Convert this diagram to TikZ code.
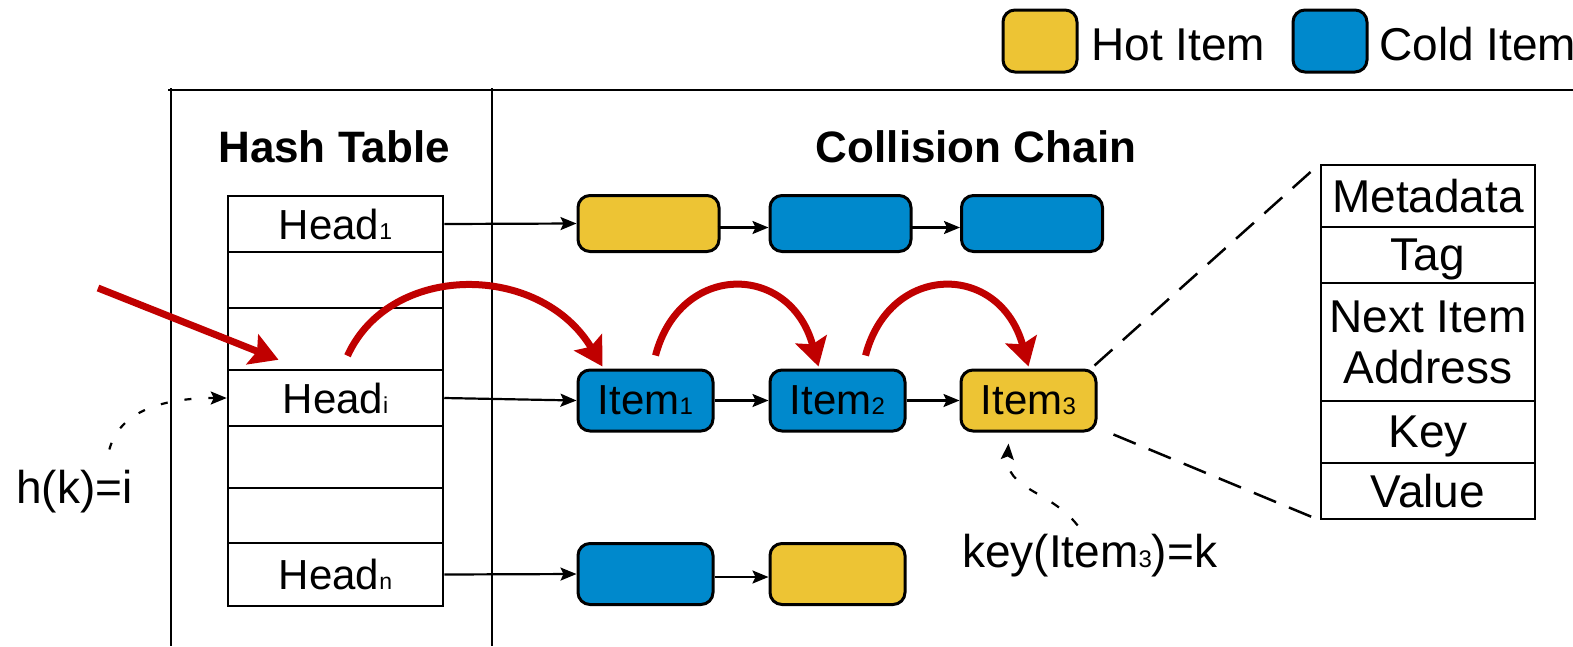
\documentclass[tikz,border=0pt]{standalone}
\usepackage{fontspec}
\setmainfont{Liberation Sans}
\usetikzlibrary{arrows.meta,calc}
\definecolor{hot}{RGB}{237,196,52}
\definecolor{cold}{RGB}{0,137,204}
\definecolor{redarr}{RGB}{192,0,0}
\newcommand{\fsz}[1]{\fontsize{#1}{#1}\selectfont}
\newcommand{\sbs}[2]{{\fsz{#1}#2}}
\begin{document}
\begin{tikzpicture}[x=1pt,y=-1pt,
  itembox/.style={draw=black,line width=3pt,rounded corners=12pt,minimum width=135pt,minimum height=61pt,inner sep=0pt,font=\fsz{42}},
  hotbox/.style={itembox,fill=hot},
  coldbox/.style={itembox,fill=cold},
  tabrow/.style={draw,line width=2.5pt,minimum width=215pt,inner sep=0pt,font=\fsz{42}},
  recrow/.style={draw,line width=2.5pt,minimum width=214pt,inner sep=0pt,font=\fsz{46},align=center},
  framel/.style={line width=2.5pt},
  link/.style={-{Stealth[length=16pt,width=13pt,inset=3pt]},line width=2.2pt},
  hop/.style={-{Stealth[length=28pt,width=32pt,inset=5pt]},line width=7pt,draw=redarr},
  dotlink/.style={-{Stealth[length=16pt,width=13pt,inset=3pt]},line width=2.2pt,dash pattern=on 7pt off 17pt},
  zoomline/.style={line width=2.5pt,dash pattern=on 24pt off 14pt},
  lbl/.style={inner sep=0pt,font=\fsz{46}}
]
\useasboundingbox (0,0) rectangle (1573,646);

% legend
\node[hotbox,minimum width=74pt,minimum height=62pt] (lh) at (1040,41) {};
\node[lbl,anchor=base west] (lht) at (1091,60) {Hot Item};
\node[coldbox,minimum width=74pt,minimum height=62pt] (lc) at (1330,41) {};
\node[lbl,anchor=base west] (lct) at (1379,60) {Cold Item};

% frame
\draw[framel] (168,90) -- (1573,90);
\draw[framel] (171,88) -- (171,646);
\draw[framel] (492,88) -- (492,646);

% titles
\node[inner sep=0pt,font=\fsz{44}\bfseries,anchor=base] (tht) at (334,162) {Hash Table};
\node[inner sep=0pt,font=\fsz{44}\bfseries,anchor=base] (tcc) at (976,162) {Collision Chain};

% hash table
\node[tabrow,minimum height=56pt] (h1) at (335.5,224) {Head\sbs{23}{1}};
\node[tabrow,minimum height=56pt] (e1) at (335.5,280) {};
\node[tabrow,minimum height=62pt] (e2) at (335.5,339) {};
\node[tabrow,minimum height=56pt] (hi) at (335.5,398) {Head\sbs{23}{i}};
\node[tabrow,minimum height=62pt] (e3) at (335.5,457) {};
\node[tabrow,minimum height=55pt] (e4) at (335.5,515.5) {};
\node[tabrow,minimum height=63pt] (hn) at (335.5,574.5) {Head\sbs{23}{n}};

% chain row 1
\node[hotbox,minimum width=141pt,minimum height=56pt] (a1) at (648.5,223.5) {};
\node[coldbox,minimum width=141pt,minimum height=56pt] (a2) at (840.5,223.5) {};
\node[coldbox,minimum width=141pt,minimum height=56pt] (a3) at (1032,223.5) {};
% chain row 2
\node[coldbox] (i1) at (645.5,400.5) {Item\sbs{24}{1}};
\node[coldbox] (i2) at (837.5,400.5) {Item\sbs{24}{2}};
\node[hotbox] (i3) at (1028.5,400.5) {Item\sbs{24}{3}};
% chain row 3
\node[coldbox] (b1) at (645.5,574) {};
\node[hotbox] (b2) at (837.5,574) {};

% links
\draw[link] (h1.east) -- (a1.west);
\draw[link] ([yshift=-4pt,xshift=-3pt]a1.east) -- ([yshift=-4pt]a2.west);
\draw[link] ([yshift=-4pt,xshift=-3pt]a2.east) -- ([yshift=-4pt]a3.west);
\draw[link] (hi.east) -- (i1.west);
\draw[link] (i1.east) -- (i2.west);
\draw[link] (i2.east) -- (i3.west);
\draw[link] (hn.east) -- (b1.west);
\draw[link] ([yshift=-3pt]b1.east) -- ([yshift=-3pt]b2.west);

% record
\node[recrow,minimum height=62pt,text depth=0pt] (r1) at (1428,196) {Metadata};
\node[recrow,minimum height=56pt,text depth=0pt] (r2) at (1428,255) {Tag};
\node[recrow,minimum height=118pt,font=\fontsize{46}{51}\selectfont] (r3) at (1428,342) {Next Item\\Address};
\node[recrow,minimum height=62pt,text depth=0pt] (r4) at (1428,432) {Key};
\node[recrow,minimum height=56pt,text depth=0pt] (r5) at (1428,491) {Value};

\draw[zoomline] ([xshift=-3pt,yshift=3pt]i3.north east) -- (r1.north west);
\draw[zoomline] ([xshift=16pt,yshift=-2pt]i3.south east) -- (r5.south west);

% labels and dotted arrows
\node[lbl,anchor=base west] (hk) at (16,503) {h(k)=i};
\coordinate (hks) at ($(hk.north)+(35,-20)$);
\draw[dotlink] (hks) .. controls (120,410) and (165,398) .. (hi.west);

\node[lbl,anchor=base west] (kk) at (962,567) {key(Item\sbs{24}{3})=k};
\coordinate (kks) at ($(kk.north)+(-12,-8)$);
\coordinate (kkt) at ($(i3.south)+(-20,11)$);
\draw[dotlink,dash pattern=on 9pt off 17pt] (kks) .. controls (1050,490) and (1005,490) .. (kkt);

% red hops
\coordinate (rs) at (98,288);
\draw[hop] (rs) -- ($(hi.north)+(-57,-9)$);
\draw[hop] ($(hi.north)+(12,-13)$) .. controls (390,262) and (540,262) .. ($(i1.north)+(-43,-2)$);
\draw[hop] ($(i1.north)+(10,-13)$) .. controls (680,262) and (790,262) .. ($(i2.north)+(-19,-2)$);
\draw[hop] ($(i2.north)+(28,-13)$) .. controls (890,262) and (1000,262) .. ($(i3.north)+(0,-2)$);
\end{tikzpicture}
\end{document}
